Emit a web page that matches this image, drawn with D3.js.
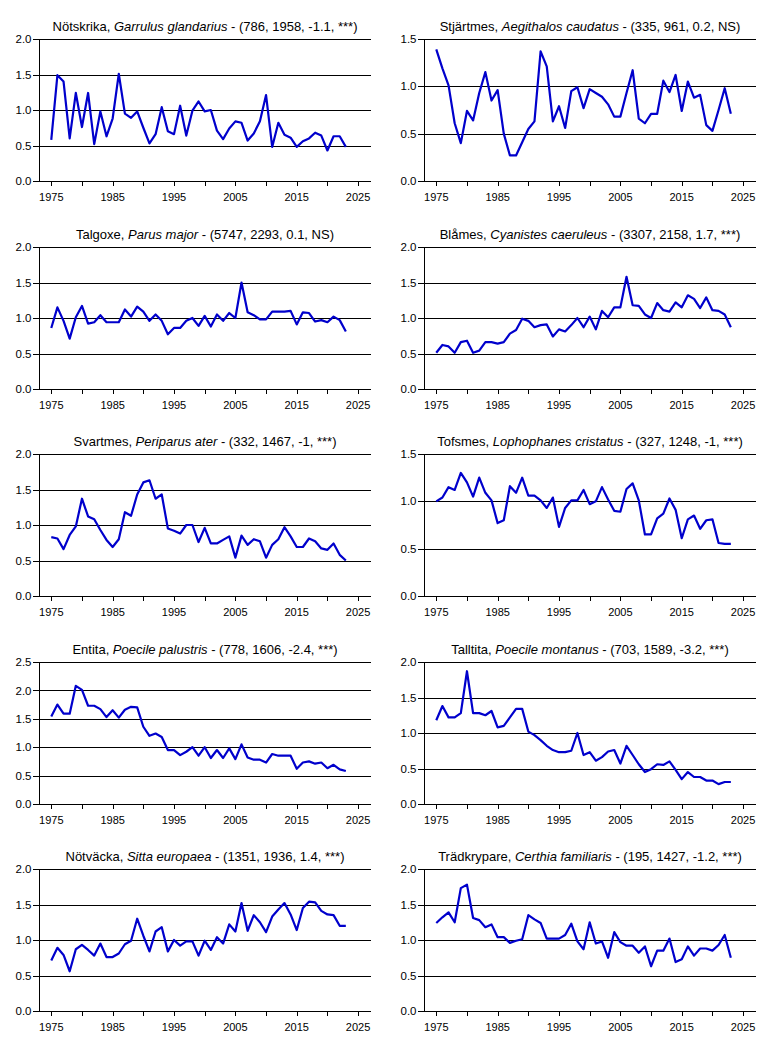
<!DOCTYPE html>
<html><head><meta charset="utf-8">
<script src="https://cdn.jsdelivr.net/npm/d3@7/dist/d3.min.js"></script>
<style>
body{margin:0;background:#fff}
text{font-family:"Liberation Sans",Arial,sans-serif;fill:#000}
</style>
</head><body>
<svg id="c" width="769" height="1038"></svg>
<script>
const firstYear = 1975, lastYear = 2023;
const years = d3.range(firstYear, lastYear + 1);
const xTickYears = [1975,1980,1985,1990,1995,2000,2005,2010,2015,2020,2025];
const xLabelYears = [1975,1985,1995,2005,2015,2025];

const notskrika = [0.58,1.49,1.40,0.60,1.24,0.76,1.24,0.52,0.98,0.63,0.88,1.51,0.95,0.89,0.98,0.75,0.53,0.66,1.04,0.70,0.66,1.06,0.64,0.99,1.12,0.98,1.00,0.71,0.59,0.74,0.84,0.82,0.57,0.67,0.84,1.21,0.48,0.82,0.65,0.61,0.48,0.56,0.60,0.68,0.64,0.43,0.63,0.63,0.48];
const stjartmes = [1.39,1.19,1.01,0.61,0.40,0.74,0.64,0.93,1.15,0.85,0.96,0.50,0.27,0.27,0.41,0.55,0.63,1.37,1.21,0.63,0.79,0.56,0.95,0.99,0.77,0.97,0.93,0.89,0.81,0.68,0.68,0.93,1.17,0.66,0.61,0.71,0.71,1.06,0.94,1.12,0.74,1.05,0.88,0.91,0.59,0.53,0.75,0.98,0.71];
const talgoxe = [0.86,1.15,0.96,0.71,1.01,1.17,0.92,0.94,1.04,0.94,0.94,0.94,1.12,1.02,1.16,1.09,0.96,1.05,0.96,0.77,0.86,0.86,0.96,1.00,0.89,1.03,0.88,1.05,0.96,1.07,1.00,1.50,1.08,1.04,0.98,0.98,1.09,1.09,1.09,1.10,0.91,1.08,1.07,0.95,0.97,0.94,1.02,0.97,0.81];
const blames = [0.51,0.62,0.60,0.51,0.66,0.68,0.51,0.54,0.66,0.66,0.64,0.66,0.78,0.83,0.99,0.96,0.87,0.90,0.91,0.74,0.84,0.81,0.90,1.00,0.87,1.02,0.84,1.10,1.01,1.15,1.15,1.58,1.18,1.17,1.05,1.00,1.21,1.11,1.09,1.22,1.15,1.32,1.27,1.14,1.29,1.11,1.10,1.05,0.87];
const svartmes = [0.83,0.81,0.66,0.86,0.98,1.37,1.12,1.08,0.93,0.79,0.69,0.80,1.18,1.13,1.43,1.60,1.63,1.37,1.43,0.95,0.92,0.88,1.00,1.00,0.76,0.96,0.74,0.74,0.79,0.84,0.54,0.85,0.72,0.80,0.77,0.54,0.72,0.80,0.97,0.84,0.69,0.69,0.81,0.77,0.67,0.65,0.74,0.58,0.50];
const tofsmes = [1.00,1.04,1.15,1.12,1.30,1.20,1.05,1.25,1.09,1.01,0.77,0.80,1.16,1.09,1.25,1.06,1.06,1.01,0.93,1.04,0.73,0.93,1.01,1.01,1.12,0.97,1.00,1.15,1.02,0.90,0.89,1.13,1.19,1.01,0.65,0.65,0.82,0.87,1.03,0.91,0.61,0.81,0.85,0.71,0.80,0.81,0.56,0.55,0.55];
const entita = [1.54,1.75,1.59,1.59,2.08,2.01,1.73,1.73,1.67,1.53,1.65,1.52,1.66,1.71,1.70,1.36,1.20,1.24,1.18,0.95,0.95,0.86,0.92,1.00,0.85,1.00,0.81,0.95,0.81,0.98,0.79,1.05,0.82,0.78,0.78,0.73,0.88,0.85,0.85,0.85,0.62,0.73,0.75,0.71,0.73,0.63,0.69,0.61,0.58];
const talltita = [1.18,1.38,1.22,1.22,1.28,1.87,1.28,1.28,1.25,1.31,1.08,1.10,1.22,1.34,1.34,1.02,0.97,0.90,0.82,0.76,0.73,0.73,0.75,1.00,0.69,0.73,0.61,0.66,0.74,0.76,0.57,0.82,0.69,0.56,0.45,0.49,0.56,0.55,0.60,0.48,0.35,0.45,0.38,0.38,0.33,0.33,0.28,0.31,0.31];
const notvacka = [0.71,0.89,0.79,0.56,0.87,0.93,0.86,0.78,0.95,0.76,0.76,0.81,0.94,0.99,1.30,1.06,0.84,1.12,1.18,0.84,1.00,0.92,0.98,0.98,0.78,0.99,0.86,1.04,0.95,1.22,1.12,1.52,1.13,1.35,1.25,1.11,1.33,1.43,1.52,1.36,1.14,1.45,1.54,1.53,1.41,1.36,1.35,1.20,1.20];
const tradkrypare = [1.24,1.32,1.39,1.25,1.73,1.78,1.31,1.28,1.18,1.22,1.04,1.04,0.96,0.99,1.01,1.35,1.29,1.24,1.02,1.02,1.02,1.07,1.23,0.98,0.87,1.25,0.95,0.98,0.75,1.11,0.97,0.92,0.92,0.82,0.91,0.63,0.85,0.85,1.02,0.69,0.73,0.91,0.78,0.88,0.88,0.85,0.93,1.07,0.75];

const commonNames = ["Nötskrika","Stjärtmes","Talgoxe","Blåmes","Svartmes","Tofsmes","Entita","Talltita","Nötväcka","Trädkrypare"];
const latinNames = ["Garrulus glandarius","Aegithalos caudatus","Parus major","Cyanistes caeruleus","Periparus ater","Lophophanes cristatus","Poecile palustris","Poecile montanus","Sitta europaea","Certhia familiaris"];
const statLabels = ["(786, 1958, -1.1, ***)","(335, 961, 0.2, NS)","(5747, 2293, 0.1, NS)","(3307, 2158, 1.7, ***)","(332, 1467, -1, ***)","(327, 1248, -1, ***)","(778, 1606, -2.4, ***)","(703, 1589, -3.2, ***)","(1351, 1936, 1.4, ***)","(195, 1427, -1.2, ***)"];
const seriesList = [notskrika,stjartmes,talgoxe,blames,svartmes,tofsmes,entita,talltita,notvacka,tradkrypare];
const yMaxList = [2.0,1.5,2.0,2.0,2.0,1.5,2.5,2.0,2.0,2.0];

const svg = d3.select("#c");
const colLeft = [39, 424];
const plotW = 332;
const rowTop = [39, 247, 454, 662, 869];
const plotH = 142;

seriesList.forEach((vals, i) => {
  const col = i % 2, row = Math.floor(i / 2);
  const g = svg.append("g").attr("transform", `translate(${colLeft[col]},${rowTop[row]})`);
  const x = d3.scaleLinear().domain([1973, 2027.1]).range([0, plotW]);
  const ymax = yMaxList[i];
  const y = d3.scaleLinear().domain([0, ymax]).range([plotH, 0]);
  const yTicks = d3.range(0, ymax + 0.01, 0.5);
  const yc = d => Math.round(y(d)) + 0.5;

  g.selectAll("line.grid").data(yTicks).join("line")
    .attr("x1", -6).attr("x2", plotW)
    .attr("y1", yc).attr("y2", yc)
    .attr("stroke", "#000").attr("stroke-width", 1);
  g.selectAll("text.yl").data(yTicks).join("text")
    .attr("x", -7.5).attr("y", d => y(d)).attr("dy", "0.36em")
    .attr("text-anchor", "end").attr("font-size", 11.5)
    .text(d => d.toFixed(1));
  g.append("line").attr("x1",0.5).attr("x2",0.5).attr("y1",0).attr("y2",plotH + 1)
    .attr("stroke","#000").attr("stroke-width",1);
  g.selectAll("line.xt").data(xTickYears).join("line")
    .attr("x1", d => Math.round(x(d)) + 0.5).attr("x2", d => Math.round(x(d)) + 0.5)
    .attr("y1", plotH).attr("y2", plotH + 5)
    .attr("stroke","#000").attr("stroke-width",1);
  g.selectAll("text.xl").data(xLabelYears).join("text")
    .attr("x", d => x(d)).attr("y", plotH + 19.5)
    .attr("text-anchor","middle").attr("font-size", 11)
    .text(d => d);
  const t = g.append("text").attr("x", plotW/2).attr("y", -8.5)
    .attr("text-anchor","middle").attr("font-size", 13);
  t.append("tspan").text(commonNames[i] + ", ");
  t.append("tspan").attr("font-style","italic").text(latinNames[i]);
  t.append("tspan").text(" - " + statLabels[i]);
  const line = d3.line().x((d, k) => x(years[k])).y(d => y(d));
  g.append("path").datum(vals).attr("d", line)
    .attr("fill","none").attr("stroke","#0000cc").attr("stroke-width",2.2)
    .attr("stroke-linejoin","round");
});
</script>
</body></html>
